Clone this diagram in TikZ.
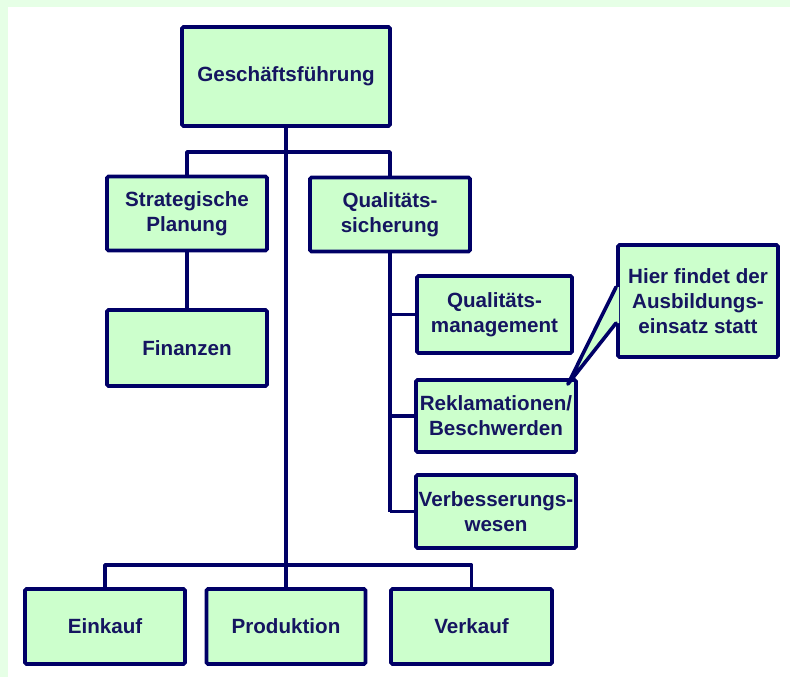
\documentclass[tikz,border=0pt]{standalone}
\usepackage{fontspec}
\setmainfont{Liberation Sans}
\usepackage{xcolor}
\usepackage{tikz}
\usetikzlibrary{calc}
\definecolor{frame}{HTML}{E6FFE6}
\definecolor{boxfill}{HTML}{CCFFCC}
\definecolor{navy}{HTML}{000066}
\definecolor{ink}{HTML}{151560}
\tikzset{
  unit/.style={draw=navy, fill=boxfill, line width=3.8pt, rounded corners=1.5pt,
    inner sep=0pt, align=center, text=ink, font=\fontsize{20.6}{25}\selectfont\bfseries},
  dept/.style={unit, minimum width=160pt, minimum height=74pt},
  link/.style={draw=navy, line width=3.6pt, line join=round},
  pointer/.style={draw=navy, line width=3.6pt, line join=round, line cap=round},
}

\begin{document}
\begin{tikzpicture}[x=1pt,y=-1pt]
  % page frame
  \fill[frame] (0,0) rectangle (790,677);
  \fill[white] (8,7) rectangle (790,677);

  \coordinate (topbar) at (0,152);
  \coordinate (botbar) at (0,565);

  \node[unit, minimum width=208pt, minimum height=99pt] (gf) at (286,76.5) {Geschäftsführung};
  \node[dept] (strat) at (187,213.5) {Strategische\\Planung};
  \node[dept] (qs) at (390,214.5) {Qualitäts-\\sicherung};
  \node[dept, minimum height=76pt] (fin) at (187,348) {Finanzen};
  \node[dept, minimum width=155pt, minimum height=77pt] (qm) at (494.5,314.5) {Qualitäts-\\management};
  \node[dept, minimum height=72pt] (rekl) at (496,416) {Reklamationen/\\Beschwerden};
  \node[dept, minimum height=73pt] (vw) at (496,511.5) {Verbesserungs-\\wesen};
  \node[dept, minimum height=75pt] (ek) at (105,626.5) {Einkauf};
  \node[dept, minimum width=159pt, minimum height=75pt] (prod) at (286,626.5) {Produktion};
  \node[dept, minimum width=161pt, minimum height=75pt] (vk) at (471.5,626.5) {Verkauf};

  % connectors
  \draw[link] (gf.south) -- (prod.north);
  \draw[link] (strat.north) |- (qs.north |- topbar) -- (qs.north);
  \draw[link] (strat.south) -- (fin.north);
  \draw[link] (qs.south) -- (qs.south |- vw.west);
  \draw[link] (qm.west) -- (qm.west -| qs.south);
  \draw[link] (rekl.west) -- (rekl.west -| qs.south);
  \draw[link] (vw.west) -- (vw.west -| qs.south);
  \draw[link] (ek.north) |- (vk.north |- botbar) -- (vk.north);

  % callout
  \node[dept, minimum height=112pt] (hint) at (698,301) {Hier findet der\\Ausbildungs-\\einsatz statt};
  \coordinate (pa) at ($(hint.west)+(0,-14)$);
  \coordinate (pb) at ($(hint.west)+(0,22)$);
  \coordinate (tip) at ($(rekl.north east)+(-10,6)$);
  \fill[boxfill] ($(pa)+(3,0)$) -- (pa) -- (tip) -- (pb) -- ($(pb)+(3,0)$) -- cycle;
  \draw[pointer] (pa) -- (tip) -- (pb);
\end{tikzpicture}
\end{document}
